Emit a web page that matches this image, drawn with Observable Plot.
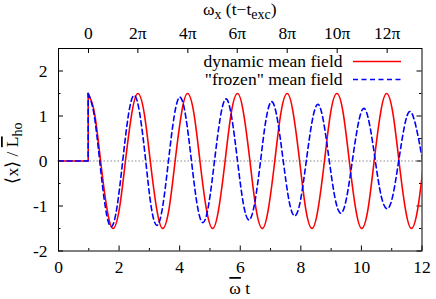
<!DOCTYPE html>
<html>
<head>
<meta charset="utf-8">
<script src="https://cdn.jsdelivr.net/npm/d3@7"></script>
<script src="https://cdn.jsdelivr.net/npm/@observablehq/plot@0.6"></script>
<style>
  html, body { margin: 0; padding: 0; background: #fff; }
  svg text { font-family: "Liberation Serif", "Times New Roman", serif; }
</style>
</head>
<body>
<div id="chart"></div>
<script>
// ---- data ----
const xMajorTicks = [0, 2, 4, 6, 8, 10, 12];
const xMinorTicks = [1, 3, 5, 7, 9, 11];
const yMajorTicks = [-2, -1, 0, 1, 2];
const yMinorTicks = [-1.5, -0.5, 0.5, 1.5];
const topTicks = [0.99, 2.62, 4.27, 5.90, 7.55, 9.20, 10.85];
const topTickLabels = ["0", "2π", "4π", "6π", "8π", "10π", "12π"];

// before the excitation (shared by both curves)
const preT = [0, 0.98, 0.98];
const preV = [0, 0, 1.5];

// dynamic mean field (red, solid)
const redT = [0.98,1.19,1.39,1.60,1.80,2.01,2.21,2.42,2.62,2.83,3.03,3.24,3.44,3.65,3.85,4.06,4.26,4.47,4.67,4.88,5.09,5.29,5.50,5.70,5.91,6.11,6.32,6.52,6.73,6.93,7.14,7.34,7.55,7.75,7.96,8.16,8.37,8.57,8.78,8.98,9.19,9.40,9.60,9.81,10.01,10.22,10.42,10.63,10.83,11.04,11.24,11.45,11.65,11.86,12.06];
const redV = [1.5,1.06,0,-1.06,-1.5,-1.06,0,1.06,
              1.5,1.06,0,-1.06,-1.5,-1.06,0,1.06,
              1.5,1.06,0,-1.06,-1.5,-1.06,0,1.06,
              1.5,1.06,0,-1.06,-1.5,-1.06,0,1.06,
              1.5,1.06,0,-1.06,-1.5,-1.06,0,1.06,
              1.5,1.06,0,-1.06,-1.5,-1.06,0,1.06,
              1.5,1.06,0,-1.06,-1.5,-1.06,0];

// "frozen" mean field (blue, dashed)
const blueT = [0.98,1.17,1.36,1.55,1.74,1.93,2.12,2.31,2.50,2.69,2.88,3.06,3.25,3.44,3.63,3.82,4.01,4.20,4.39,4.58,4.77,4.96,5.15,5.34,5.53,5.72,5.91,6.10,6.29,6.48,6.67,6.85,7.04,7.23,7.42,7.61,7.80,7.99,8.18,8.37,8.56,8.75,8.94,9.13,9.32,9.51,9.70,9.89,10.08,10.27,10.46,10.65,10.85,11.04,11.23,11.42,11.60,11.80,12.02,12.21];
const blueV = [1.5,1.05,0,-1.04,-1.46,-1.03,0,1.03,
               1.46,1.02,0,-1.02,-1.43,-1.01,0,1.0,
               1.42,0.99,0,-0.98,-1.37,-0.96,0,0.96,
               1.38,0.96,0,-0.94,-1.31,-0.92,0,0.92,
               1.32,0.91,0,-0.88,-1.22,-0.87,0,0.87,
               1.26,0.87,0,-0.83,-1.16,-0.82,0,0.81,
               1.17,0.81,0,-0.77,-1.06,-0.76,0,0.77,
               1.10,0.77,0,-0.77];

const seriesNames = ["dynamic mean field", "\"frozen\" mean field"];

// ---- build ----
const pre = preT.map((t, i) => ({t, v: preV[i]}));
const red = redT.map((t, i) => ({t, v: redV[i]}));
const blue = blueT.map((t, i) => ({t, v: blueV[i]}));

const W = 436, H = 299;
const mL = 58, mR = 14.5, mT = 48, mB = 48.5;
const innerW = W - mL - mR, innerH = H - mT - mB;
const RED = "#ff0000", BLUE = "#0000ff";
const DASH = "5,3.5";
const FS = 17.5, SUB = 14;

const plot = Plot.plot({
  width: W, height: H,
  marginLeft: mL, marginRight: mR, marginTop: mT, marginBottom: mB,
  style: {fontFamily: "Liberation Serif", fontSize: FS + "px", background: "#fff", color: "#000"},
  x: {domain: [0, 12]},
  y: {domain: [-2, 2.5]},
  marks: [
    Plot.ruleY([0], {stroke: "#888", strokeDasharray: "1.5,2", strokeWidth: 1.2}),
    // inward ticks
    Plot.tickX(xMajorTicks, {x: d => d, insetTop: innerH - 5, stroke: "#000"}),
    Plot.tickX(xMinorTicks, {x: d => d, insetTop: innerH - 2.5, stroke: "#000"}),
    Plot.tickX(topTicks, {x: d => d, insetBottom: innerH - 5, stroke: "#000"}),
    Plot.tickY(yMajorTicks, {y: d => d, insetRight: innerW - 5, stroke: "#000"}),
    Plot.tickY(yMinorTicks, {y: d => d, insetRight: innerW - 2.5, stroke: "#000"}),
    Plot.tickY(yMajorTicks, {y: d => d, insetLeft: innerW - 5, stroke: "#000"}),
    Plot.tickY(yMinorTicks, {y: d => d, insetLeft: innerW - 2.5, stroke: "#000"}),
    // axes labels
    Plot.axisX(xMajorTicks, {anchor: "bottom", tickSize: 0, tickPadding: 10, label: null, tickFormat: d => String(d)}),
    Plot.axisX(topTicks, {anchor: "top", tickSize: 0, tickPadding: 10, label: null, tickFormat: d => topTickLabels[topTicks.indexOf(d)]}),
    Plot.axisY(yMajorTicks, {anchor: "left", tickSize: 0, tickPadding: 11, label: null, tickFormat: d => String(d)}),
    // curves
    Plot.line(pre, {x: "t", y: "v", stroke: RED, strokeWidth: 1.6}),
    Plot.line(red, {x: "t", y: "v", curve: "natural", stroke: RED, strokeWidth: 1.6, clip: true}),
    Plot.line(pre, {x: "t", y: "v", stroke: BLUE, strokeWidth: 1.6, strokeDasharray: DASH}),
    Plot.line(blue, {x: "t", y: "v", curve: "natural", stroke: BLUE, strokeWidth: 1.6, strokeDasharray: DASH, clip: true}),
    Plot.frame({stroke: "#000", strokeWidth: 1})
  ]
});

document.getElementById("chart").appendChild(plot);

// ---- titles, legend ----
const svg = d3.select(plot);
const xs = plot.scale("x").range;
const cx = (xs[0] + xs[1]) / 2;

// top axis title: ωx (t−texc)
const tt = svg.append("text").attr("x", cx).attr("y", 15).attr("text-anchor", "middle")
  .attr("font-size", FS).attr("fill", "#000");
tt.append("tspan").text("ω");
tt.append("tspan").attr("dy", 4).attr("font-size", SUB).text("x");
tt.append("tspan").attr("dy", -4).text(" (t−t");
tt.append("tspan").attr("dy", 4).attr("font-size", SUB).text("exc");
tt.append("tspan").attr("dy", -4).text(")");

// bottom axis title: ω̄ t
const bt = svg.append("text").attr("x", cx).attr("y", 294).attr("text-anchor", "middle")
  .attr("font-size", FS).attr("fill", "#000");
bt.append("tspan").style("text-decoration", "overline").text("ω");
bt.append("tspan").text(" t");

// y title: ⟨x⟩ / L̄ho
const yt = svg.append("text").attr("transform", "translate(18,153) rotate(-90)").attr("text-anchor", "middle")
  .attr("font-size", FS).attr("fill", "#000");
yt.append("tspan").text("⟨x⟩ / ");
yt.append("tspan").style("text-decoration", "overline").text("L");
yt.append("tspan").attr("dy", 4).attr("font-size", SUB).text("ho");

// legend
const legend = [
  {name: seriesNames[0], color: RED, dash: null, y: 61.5},
  {name: seriesNames[1], color: BLUE, dash: DASH, y: 79.5}
];
legend.forEach(l => {
  svg.append("text").attr("x", 342.5).attr("y", l.y + 5.5).attr("text-anchor", "end")
    .attr("font-size", FS).attr("fill", "#000").text(l.name);
  svg.append("line").attr("x1", 353).attr("x2", 401).attr("y1", l.y).attr("y2", l.y)
    .attr("stroke", l.color).attr("stroke-width", 1.6).attr("stroke-dasharray", l.dash);
});

// enforce the serif face on every text element
svg.selectAll("text").style("font-family", "'Liberation Serif', 'Times New Roman', serif");
</script>
</body>
</html>
